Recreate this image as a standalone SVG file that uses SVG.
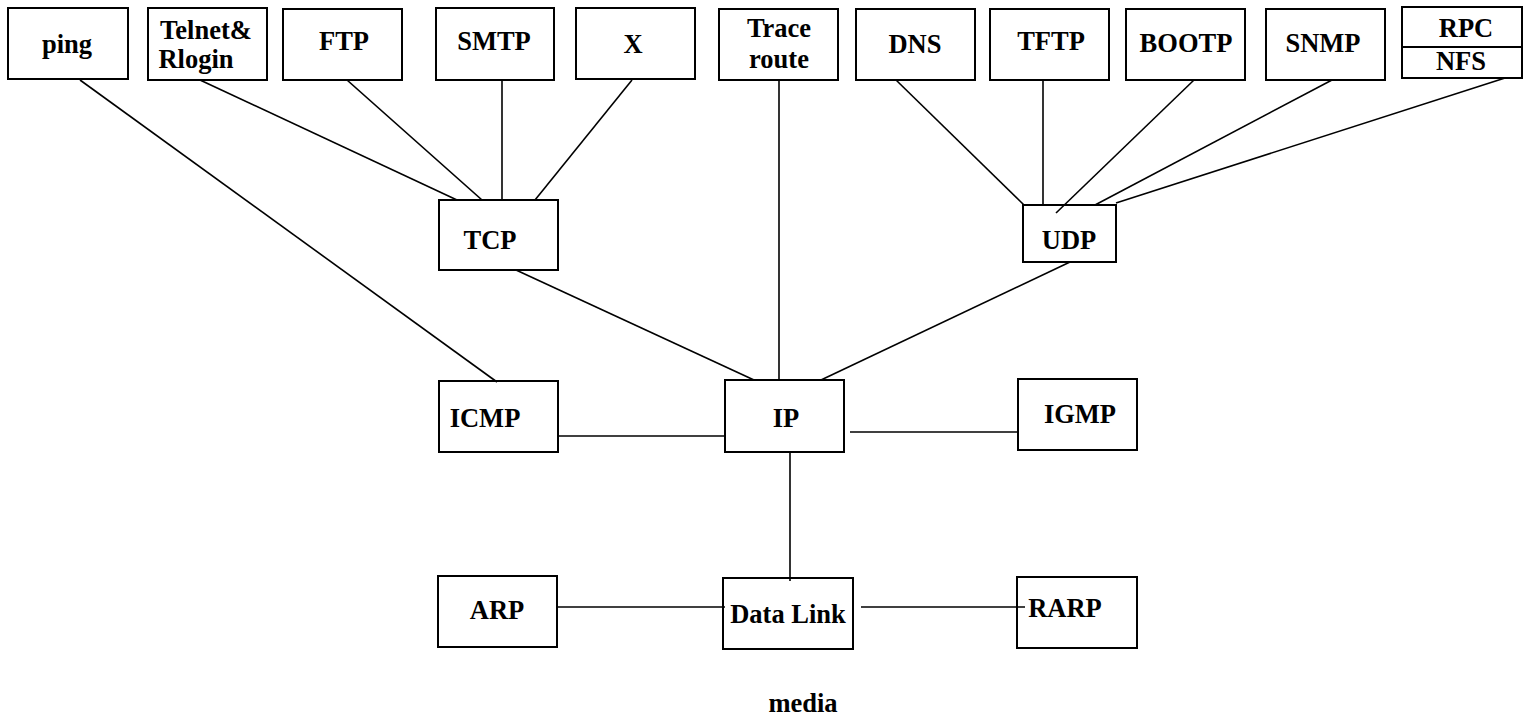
<svg xmlns="http://www.w3.org/2000/svg" width="1528" height="720" viewBox="0 0 1528 720">
<style>
rect{fill:#fff;stroke:#000;stroke-width:2}
text{font-family:"Liberation Serif","Times New Roman",serif;font-weight:bold;font-size:26.5px;fill:#000;text-anchor:middle}
#connectors line{stroke:#000;stroke-width:1.6}
</style>
<rect x="0" y="0" width="1528" height="720" style="stroke:none"/>
<g id="ping"><rect x="8" y="8" width="120" height="71"/><text x="67" y="53">ping</text></g>
<g id="telnet"><rect x="148" y="8" width="119" height="72"/><text x="206" y="39">Telnet&amp;</text><text x="196" y="68">Rlogin</text></g>
<g id="ftp"><rect x="283" y="9" width="119" height="71"/><text x="344" y="50">FTP</text></g>
<g id="smtp"><rect x="436" y="8" width="118" height="72"/><text x="494" y="50">SMTP</text></g>
<g id="x"><rect x="576" y="8" width="119" height="71"/><text x="633" y="53">X</text></g>
<g id="traceroute"><rect x="719" y="9" width="119" height="71"/><text x="779" y="37">Trace</text><text x="779" y="68">route</text></g>
<g id="dns"><rect x="856" y="9" width="119" height="71"/><text x="915" y="53">DNS</text></g>
<g id="tftp"><rect x="990" y="9" width="119" height="71"/><text x="1051" y="50">TFTP</text></g>
<g id="bootp"><rect x="1126" y="9" width="119" height="71"/><text x="1186" y="52">BOOTP</text></g>
<g id="snmp"><rect x="1266" y="9" width="119" height="71"/><text x="1323" y="52">SNMP</text></g>
<g id="rpcnfs"><rect x="1402" y="7" width="120" height="71"/><line x1="1402" y1="47" x2="1522" y2="47" stroke="#000" stroke-width="2"/><text x="1466" y="37">RPC</text><text x="1461" y="70">NFS</text></g>
<g id="tcp"><rect x="439" y="200" width="119" height="70"/><text x="490" y="249">TCP</text></g>
<g id="udp"><rect x="1023" y="205" width="93" height="57"/><text x="1069" y="249">UDP</text></g>
<g id="icmp"><rect x="439" y="381" width="119" height="71"/><text x="485" y="427">ICMP</text></g>
<g id="ip"><rect x="725" y="380" width="119" height="72"/><text x="786" y="427">IP</text></g>
<g id="igmp"><rect x="1018" y="379" width="119" height="71"/><text x="1080" y="423">IGMP</text></g>
<g id="arp"><rect x="438" y="576" width="119" height="71"/><text x="497" y="619">ARP</text></g>
<g id="datalink"><rect x="723" y="578" width="130" height="71"/><text x="788" y="623">Data Link</text></g>
<g id="rarp"><rect x="1017" y="577" width="120" height="71"/><text x="1065" y="617">RARP</text></g>
<g id="media"><text x="803" y="712">media</text></g>
<g id="connectors">
<line x1="80" y1="80" x2="497" y2="382"/>
<line x1="200" y1="80" x2="457" y2="200"/>
<line x1="347" y1="80" x2="482" y2="200"/>
<line x1="502" y1="80" x2="502" y2="200"/>
<line x1="632" y1="80" x2="535" y2="200"/>
<line x1="779" y1="80" x2="779" y2="380"/>
<line x1="896" y1="80" x2="1024" y2="205"/>
<line x1="1043" y1="80" x2="1043" y2="205"/>
<line x1="1194" y1="80" x2="1056" y2="213"/>
<line x1="1332" y1="80" x2="1095" y2="205"/>
<line x1="1505" y1="78" x2="1116" y2="203"/>
<line x1="516" y1="270" x2="754" y2="380"/>
<line x1="1070" y1="262" x2="821" y2="380"/>
<line x1="558" y1="436" x2="725" y2="436"/>
<line x1="850" y1="432" x2="1018" y2="432"/>
<line x1="790" y1="452" x2="790" y2="581"/>
<line x1="557" y1="607" x2="725" y2="607"/>
<line x1="861" y1="607" x2="1025" y2="607"/>
</g>
</svg>
